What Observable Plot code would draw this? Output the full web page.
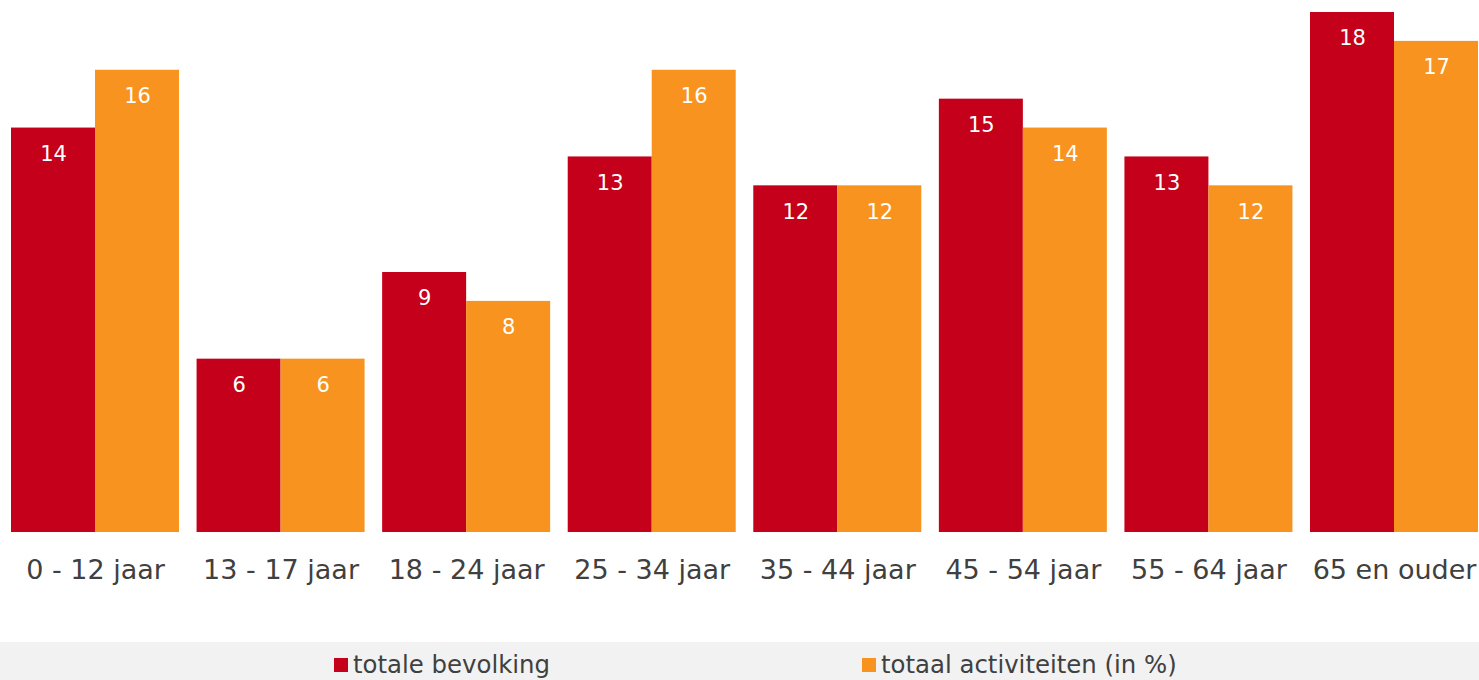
<!DOCTYPE html>
<html><head><meta charset="utf-8">
<script src="https://cdn.jsdelivr.net/npm/d3@7"></script>
<script src="https://cdn.jsdelivr.net/npm/@observablehq/plot@0.6"></script>
<style>
body{margin:0;background:#fff;font-family:"DejaVu Sans",Verdana,sans-serif}
#legend{position:relative;width:1479px;height:38px;background:#f2f2f2;color:#404040;font-size:24.4px;overflow:hidden}
.sw{position:absolute;top:16px;width:14px;height:14px}
.lt{position:absolute;top:11px;line-height:24px;white-space:nowrap}
</style></head><body><div id="chart"></div><div id="legend"></div>
<script>
const categories = ["0 - 12 jaar","13 - 17 jaar","18 - 24 jaar","25 - 34 jaar","35 - 44 jaar","45 - 54 jaar","55 - 64 jaar","65 en ouder"];
const series = ["totale bevolking","totaal activiteiten (in %)"];
const totaleBevolking = [14,6,9,13,12,15,13,18];
const totaalActiviteiten = [16,6,8,16,12,14,12,17];
const colors = ["#c5001a","#f7931e"];
const data = categories.flatMap((c,i)=>[
  {group:c, series:series[0], value:totaleBevolking[i]},
  {group:c, series:series[1], value:totaalActiviteiten[i]}
]);
const chart = Plot.plot({
  width:1479, height:642, marginTop:12, marginBottom:110, marginLeft:11, marginRight:1,
  style:{fontFamily:"DejaVu Sans, Verdana, sans-serif", background:"white"},
  fx:{domain:categories, padding:0.0947, paddingInner:0.0947, paddingOuter:0, round:false, label:null},
  x:{domain:series, padding:0, round:false, axis:null},
  y:{domain:[0,18], axis:null},
  color:{domain:series, range:colors},
  marks:[
    Plot.barY(data,{fx:"group", x:"series", y:"value", fill:"series"}),
    Plot.text(data,{fx:"group", x:"series", y:"value", text:d=>String(d.value), dy:26, fill:"white", fontSize:21}),
    Plot.axisFx({anchor:"bottom", tickSize:0, tickPadding:27, fontSize:27, fill:"#404040", label:null})
  ]
});
document.getElementById("chart").appendChild(chart);
const legend = document.getElementById("legend");
const pos = [{sw:334, tx:353},{sw:862, tx:881}];
series.forEach((s,i)=>{
  const sw = document.createElement("div"); sw.className="sw"; sw.style.left=pos[i].sw+"px"; sw.style.background=colors[i];
  const t = document.createElement("div"); t.className="lt"; t.style.left=pos[i].tx+"px"; t.textContent=s;
  legend.appendChild(sw); legend.appendChild(t);
});
</script></body></html>
